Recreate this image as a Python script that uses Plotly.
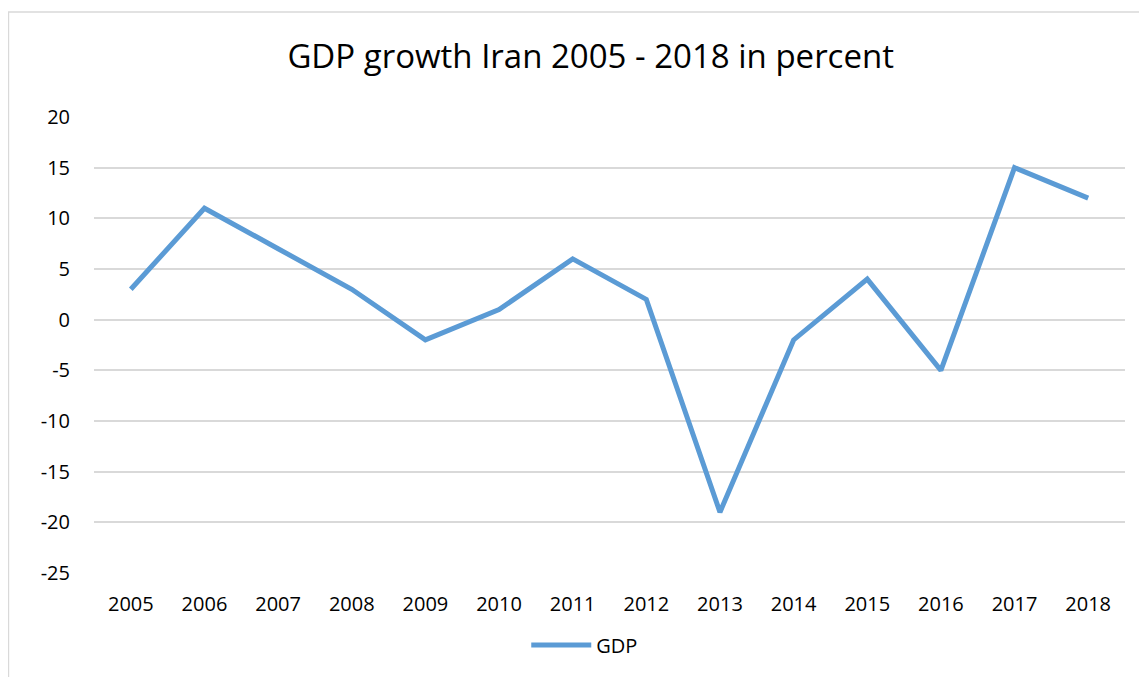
import plotly.graph_objects as go

years = ["2005", "2006", "2007", "2008", "2009", "2010", "2011", "2012",
         "2013", "2014", "2015", "2016", "2017", "2018"]
gdp_growth = [3, 11, 7, 3, -2, 1, 6, 2, -19, -2, 4, -5, 15, 12]
y_ticks = [-25, -20, -15, -10, -5, 0, 5, 10, 15, 20]
y_tick_labels = [str(v) for v in y_ticks]

FONT = "Open Sans"

fig = go.Figure()
fig.add_trace(go.Scatter(
    x=years, y=gdp_growth, mode="lines", name="GDP",
    line=dict(color="#5B9BD5", width=5, shape="linear"),
))

fig.update_layout(
    width=1147, height=677,
    paper_bgcolor="white", plot_bgcolor="white",
    margin=dict(l=86, r=30, t=109, b=112),
    title=dict(text="GDP growth Iran 2005 - 2018 in percent",
               x=0.508, xanchor="center", y=0.928, yanchor="middle",
               font=dict(family=FONT, size=33, color="#000000")),
    font=dict(family=FONT, size=20, color="#000000"),
    showlegend=True,
    legend=dict(orientation="h", x=0.476, xanchor="center", y=-0.158,
                yanchor="middle", font=dict(family=FONT, size=20, color="#000000"),
                itemwidth=60),
    shapes=[dict(type="rect", xref="paper", yref="paper",
                 x0=-0.083, x1=1.2, y0=-0.4, y1=1.230,
                 line=dict(color="#D9D9D9", width=1.5), layer="below")],
)
fig.update_xaxes(type="category", range=[-0.5, 13.5], showgrid=False,
                 showline=False, ticks="", ticklabelstandoff=17,
                 zeroline=False)
fig.update_yaxes(range=[-25, 20], tickvals=y_ticks, ticktext=y_tick_labels,
                 showgrid=True, gridcolor="#D9D9D9", gridwidth=1.5,
                 zeroline=False, showline=False, ticks="",
                 ticklabelstandoff=23)

fig.write_html("out.html")
